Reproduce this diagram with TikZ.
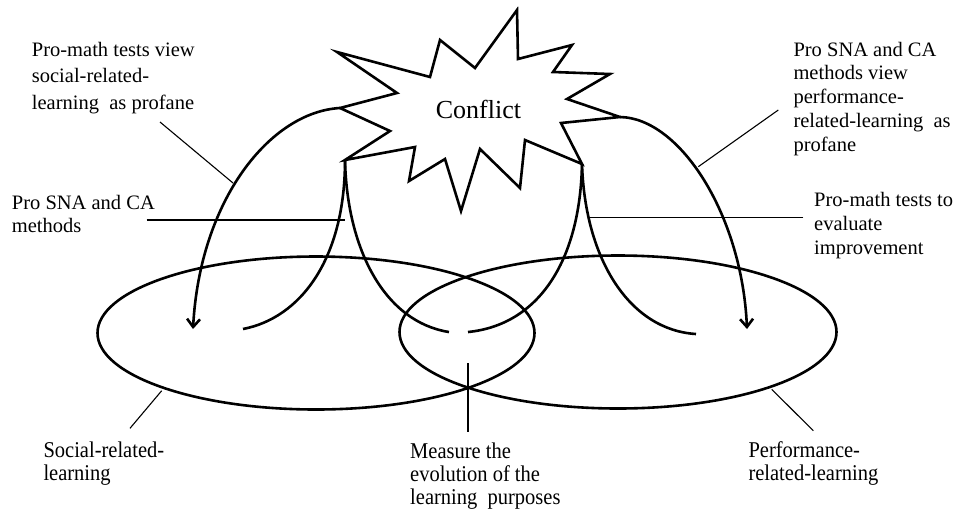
\documentclass[tikz,border=0pt]{standalone}
\usepackage{fontspec}
\usepackage{graphicx}
\setmainfont{Liberation Serif}
\usetikzlibrary{arrows.meta,shapes.geometric}
\begin{document}
\begin{tikzpicture}[x=1pt,y=-1pt,
  arc/.style={line width=2.6pt},
  arcarrow/.style={arc, -{Straight Barb[length=8pt,width=13pt]}},
  leader/.style={line width=1.1pt},
  lbl/.style={font=\fontsize{20.5}{23.6}\selectfont, align=left, inner sep=0pt, anchor=north west},
  bubble/.style={ellipse, draw, line width=2.6pt, inner sep=0pt,
                 minimum width=437pt, minimum height=153pt},
  burst/.style={line width=2.6pt, line join=miter}
]
\useasboundingbox (0,0) rectangle (963,515);

% the two learning domains
\node[bubble] (social) at (316,333) {};
\node[bubble] (perf) at (618,332) {};

% spike tips of the conflict burst where the arcs leave
\coordinate (tipL)  at (340,108);
\coordinate (tipR)  at (620,117);
\coordinate (tipBL) at (345,160);
\coordinate (tipBR) at (582,164);

% the conflict burst
\draw[burst] (517,10) -- (518,59) -- (572,45) -- (553,72) -- (610,74) -- (567,99)
  -- (tipR) -- (561,123) -- (tipBR) -- (525,140) -- (520,188) -- (480,149)
  -- (461,211) -- (445,159) -- (409,181) -- (415,147) -- (tipBL) -- (390,131)
  -- (tipL) -- (397,93) -- (337,52) -- (430,77) -- (440,40) -- (475,68) -- cycle;
\node[font=\fontsize{26}{30}\selectfont, anchor=base, inner sep=0pt] (conflict) at (478.4,118.3) {Conflict};

% arc end points
\coordinate (headL) at (193,329);
\coordinate (headR) at (747,329);
\coordinate (endA) at (243,329);
\coordinate (endB) at (449,332);
\coordinate (endC) at (468,332);
\coordinate (endD) at (696,334);

% arcs from the burst
\draw[arcarrow] (tipL) .. controls (270,112) and (200,200) .. (headL);
\draw[arcarrow] (tipR) .. controls (680,118) and (742,215) .. (headR);
\draw[arc] (tipBL) .. controls (345,260) and (300,318) .. (endA);
\draw[arc] (tipBL) .. controls (347,250) and (385,322) .. (endB);
\draw[arc] (tipBR) .. controls (580,262) and (538,325) .. (endC);
\draw[arc] (tipBR) .. controls (585,260) and (630,330) .. (endD);

% labels
\node[lbl, font=\fontsize{20.5}{26.7}\selectfont] (profaneSocial) at (31.7,41.7)
  {Pro-math tests view\\social-related-\\learning\ \ as profane};
\node[lbl, font=\fontsize{20.5}{23.3}\selectfont] (proSNA) at (11.7,195)
  {Pro SNA and CA\\methods};
\node[lbl, font=\fontsize{20.5}{23.75}\selectfont] (profanePerf) at (793.3,41.7)
  {Pro SNA and CA\\methods view\\performance-\\related-learning\ \ as\\profane};
\node[lbl, font=\fontsize{20.5}{24}\selectfont] (proMath) at (814,191.7)
  {Pro-math tests to\\evaluate\\improvement};

\node[lbl, font=\fontsize{20.5}{21.2}\selectfont] (socialLbl) at (43.3,440.5)
  {\scalebox{1}[1.1]{\begin{tabular}{@{}l@{}}Social-related-\\learning\end{tabular}}};
\node[lbl, font=\fontsize{20.5}{21.2}\selectfont] (measure) at (410,441.5)
  {\scalebox{1}[1.1]{\begin{tabular}{@{}l@{}}Measure the\\evolution of the\\learning\ \ purposes\end{tabular}}};
\node[lbl, font=\fontsize{20.5}{21.2}\selectfont] (perfLbl) at (748.3,440.5)
  {\scalebox{1}[1.1]{\begin{tabular}{@{}l@{}}Performance-\\related-learning\end{tabular}}};

% leader lines
\coordinate (lsA) at (160,122);   \coordinate (lsB) at (233,183);
\coordinate (lnA) at (146.7,220); \coordinate (lnB) at (345,220);
\coordinate (lpA) at (778.3,110); \coordinate (lpB) at (698.3,166.7);
\coordinate (lmA) at (803.3,217.3); \coordinate (lmB) at (588.3,217.3);
\coordinate (lbA) at (130,428.3); \coordinate (lbB) at (161.7,390.7);
\coordinate (lcA) at (468,431.7); \coordinate (lcB) at (468,362.7);
\coordinate (lrA) at (813.3,430.7); \coordinate (lrB) at (771.7,389.3);
\draw[leader] (lsA) -- (lsB);
\draw[leader] (lnA) -- (lnB);
\draw[leader] (lpA) -- (lpB);
\draw[leader] (lmA) -- (lmB);
\draw[leader] (lbA) -- (lbB);
\draw[leader] (lcA) -- (lcB);
\draw[leader] (lrA) -- (lrB);
\end{tikzpicture}
\end{document}
